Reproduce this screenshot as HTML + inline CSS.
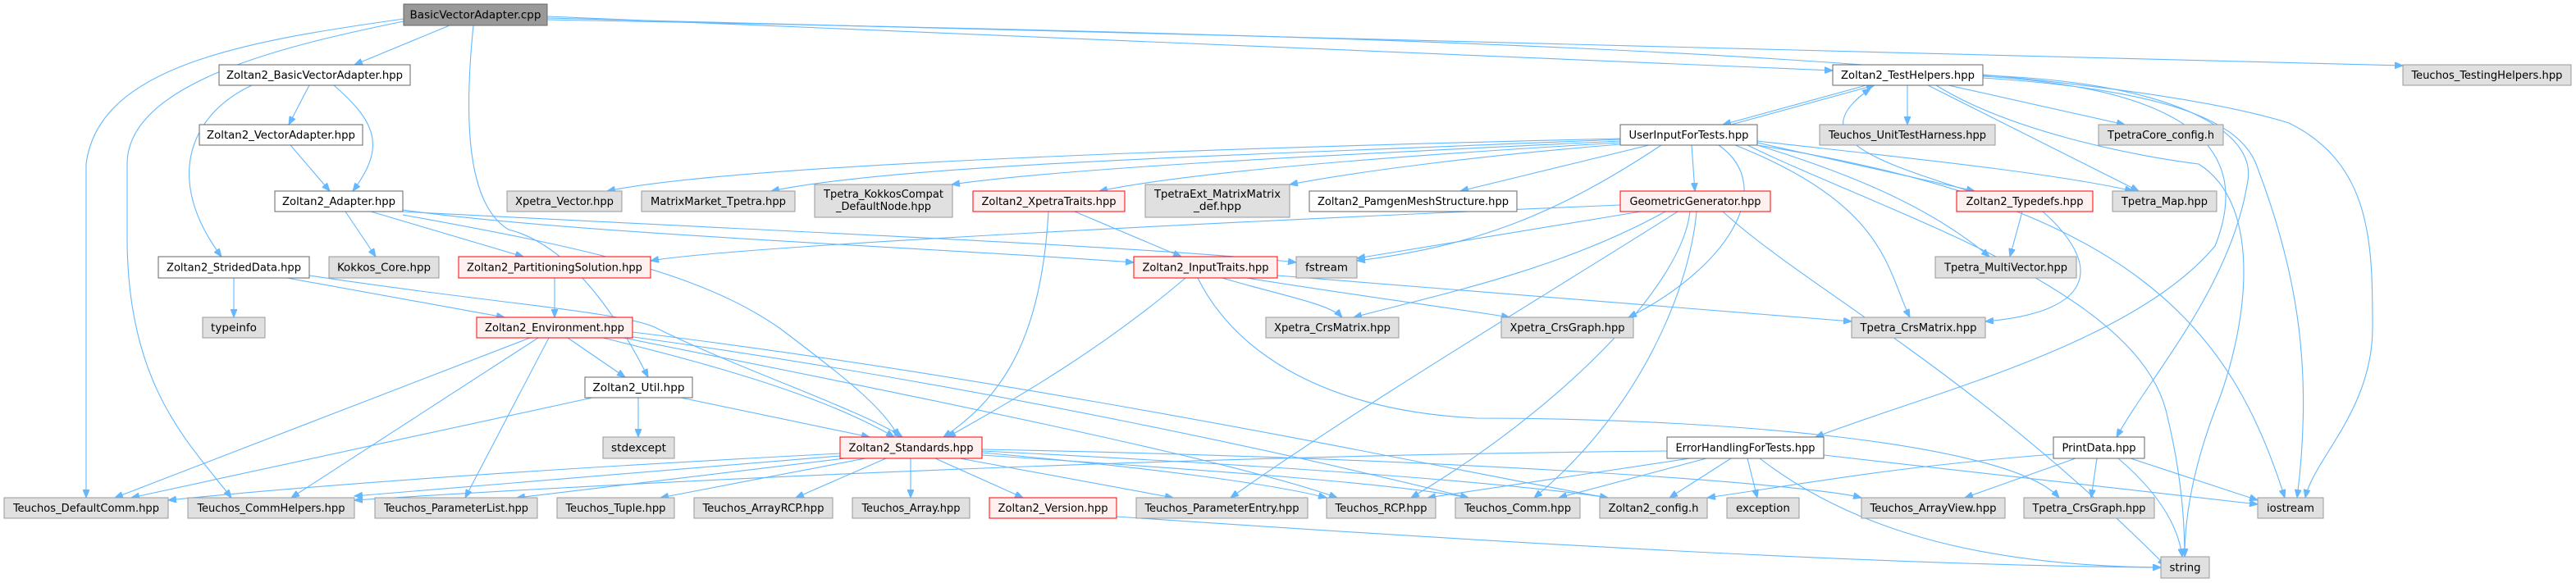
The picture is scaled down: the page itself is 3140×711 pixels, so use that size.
<!DOCTYPE html>
<html><head><meta charset="utf-8"><style>
html,body{margin:0;padding:0;background:#fff;}
svg{display:block;}
text{font-family:"DejaVu Sans Condensed","Liberation Sans",sans-serif;font-size:13px;fill:#000;}
.g{fill:#e0e0e0;stroke:#999;stroke-width:1;}
.w{fill:#fff;stroke:#666;stroke-width:1;}
.r{fill:#fff0f0;stroke:#f00;stroke-width:1;}
.k{fill:#999;stroke:#666;stroke-width:1;}
path.e{fill:none;stroke:#63b8ff;stroke-width:1.1;marker-end:url(#a);}
</style></head><body>
<svg width="3140" height="711" viewBox="0 0 3140 711" xmlns="http://www.w3.org/2000/svg">
<defs><marker id="a" markerUnits="userSpaceOnUse" markerWidth="11" markerHeight="8" refX="10" refY="4" orient="auto"><path d="M0,0 L10,4 L0,8 z" fill="#63b8ff" stroke="#63b8ff"/></marker></defs>
<g>
<path class="e" d="M548,31 L432,79"/>
<path class="e" d="M492,23 C300,50 120,80 105,200 L105,607"/>
<path class="e" d="M492,26 C350,55 155,100 155,200 L155,290 C155,470 230,540 282,607"/>
<path class="e" d="M577,31 C565,150 570,250 620,280 C700,300 760,400 790,460"/>
<path class="e" d="M667,20 L2234,86"/>
<path class="e" d="M667,22 L2929,80"/>
<path class="e" d="M667,24 C1500,40 2500,60 2790,150 C2892,200 2892,300 2892,400 C2892,500 2820,560 2810,607"/>
<path class="e" d="M377,104 L352,152"/>
<path class="e" d="M407,104 C460,150 470,180 430,233"/>
<path class="e" d="M307,104 C230,140 200,220 270,313"/>
<path class="e" d="M354,177 L402,233"/>
<path class="e" d="M421,258 L458,313"/>
<path class="e" d="M452,258 L638,313"/>
<path class="e" d="M491,256 C700,285 1100,300 1382,320"/>
<path class="e" d="M491,262 C700,300 850,330 950,400 C1030,460 1080,500 1095,533"/>
<path class="e" d="M491,258 C900,280 1400,300 1580,320"/>
<path class="e" d="M285,339 L285,387"/>
<path class="e" d="M350,339 L615,387"/>
<path class="e" d="M377,336 C600,370 760,380 800,400 C900,450 1050,500 1100,533"/>
<path class="e" d="M676,339 L676,387"/>
<path class="e" d="M692,412 L762,460"/>
<path class="e" d="M646,412 L140,607"/>
<path class="e" d="M656,412 L355,607"/>
<path class="e" d="M669,412 L567,607"/>
<path class="e" d="M735,412 C850,440 1000,480 1090,533"/>
<path class="e" d="M760,412 C1100,480 1500,560 1630,607"/>
<path class="e" d="M765,410 C1200,470 1600,560 1790,607"/>
<path class="e" d="M771,405 C1300,470 1800,580 1960,607"/>
<path class="e" d="M778,485 L778,533"/>
<path class="e" d="M830,485 L1060,533"/>
<path class="e" d="M722,485 L160,607"/>
<path class="e" d="M1024,553 C700,570 400,590 205,610"/>
<path class="e" d="M1024,556 C800,575 600,590 432,605"/>
<path class="e" d="M1030,559 L630,607"/>
<path class="e" d="M1055,559 L805,607"/>
<path class="e" d="M1080,559 L970,607"/>
<path class="e" d="M1110,559 L1110,607"/>
<path class="e" d="M1140,559 L1247,607"/>
<path class="e" d="M1170,559 L1430,607"/>
<path class="e" d="M1197,552 C1400,570 1550,590 1617,607"/>
<path class="e" d="M1197,555 C1500,575 1700,590 1790,607"/>
<path class="e" d="M1197,550 C1600,570 1850,590 1960,607"/>
<path class="e" d="M1197,548 C1800,560 2200,590 2269,607"/>
<path class="e" d="M1310,258 L1440,313"/>
<path class="e" d="M1278,258 C1270,400 1230,480 1150,533"/>
<path class="e" d="M1445,339 C1350,420 1250,480 1155,533"/>
<path class="e" d="M1490,339 C1560,360 1620,370 1636,387"/>
<path class="e" d="M1520,339 C1650,360 1800,380 1840,387"/>
<path class="e" d="M1557,336 L2257,392"/>
<path class="e" d="M1460,339 C1500,420 1600,500 1800,510 C2100,510 2450,540 2510,607"/>
<path class="e" d="M2275,104 L2100,152"/>
<path class="e" d="M2110,152 L2285,104"/>
<path class="e" d="M2325,104 L2325,152"/>
<path class="e" d="M2375,104 L2590,152"/>
<path class="e" d="M2350,104 L2607,233"/>
<path class="e" d="M2417,93 C2700,110 2740,200 2700,300 C2600,420 2350,480 2213,533"/>
<path class="e" d="M2417,92 C2650,100 2750,160 2740,220 C2720,350 2620,460 2580,533"/>
<path class="e" d="M2417,95 C2650,110 2730,150 2750,200 C2800,330 2820,450 2800,607"/>
<path class="e" d="M2360,104 C2450,160 2600,190 2680,200 C2760,250 2740,400 2700,500 C2670,580 2663,640 2663,679"/>
<path class="e" d="M2400,233 C2300,200 2190,170 2280,108"/>
<path class="e" d="M1975,169 C1500,180 900,200 740,233"/>
<path class="e" d="M1975,170 C1500,190 1100,200 940,233"/>
<path class="e" d="M1975,172 C1600,190 1300,205 1160,225"/>
<path class="e" d="M1975,174 C1700,190 1450,210 1340,233"/>
<path class="e" d="M1975,176 C1800,190 1650,210 1572,225"/>
<path class="e" d="M2010,177 L1780,233"/>
<path class="e" d="M2062,177 L2066,233"/>
<path class="e" d="M2025,177 C1900,260 1800,300 1654,318"/>
<path class="e" d="M2142,174 L2407,233"/>
<path class="e" d="M2142,172 C2300,190 2500,210 2600,233"/>
<path class="e" d="M2142,177 C2250,210 2350,250 2425,313"/>
<path class="e" d="M2115,177 C2300,250 2300,330 2328,387"/>
<path class="e" d="M2095,177 C2170,230 2100,330 1985,387"/>
<path class="e" d="M2130,177 C2300,260 2600,350 2640,500 C2660,580 2663,640 2663,679"/>
<path class="e" d="M2142,177 C2600,250 2720,400 2785,607"/>
<path class="e" d="M1975,250 C1500,270 900,300 793,318"/>
<path class="e" d="M2000,258 L1654,315"/>
<path class="e" d="M2030,258 C1900,330 1750,360 1650,387"/>
<path class="e" d="M2045,258 C1900,350 1650,500 1500,607"/>
<path class="e" d="M2060,258 C2050,350 1900,500 1720,607"/>
<path class="e" d="M2068,258 C2060,350 2000,500 1870,607"/>
<path class="e" d="M2100,258 C2200,350 2400,450 2640,690"/>
<path class="e" d="M2465,258 L2450,313"/>
<path class="e" d="M2490,258 C2560,320 2560,380 2420,392"/>
<path class="e" d="M2060,559 L1740,607"/>
<path class="e" d="M2080,559 L1900,607"/>
<path class="e" d="M2110,559 L2035,607"/>
<path class="e" d="M2130,559 L2142,607"/>
<path class="e" d="M2223,555 L2752,615"/>
<path class="e" d="M2145,559 C2250,640 2400,690 2634,692"/>
<path class="e" d="M2032,550 C1500,555 900,580 432,610"/>
<path class="e" d="M2530,559 L2395,607"/>
<path class="e" d="M2556,559 L2549,607"/>
<path class="e" d="M2597,559 L2752,610"/>
<path class="e" d="M2582,559 C2630,600 2655,640 2660,679"/>
<path class="e" d="M2503,554 C2300,570 2200,590 2081,607"/>
<path class="e" d="M1361,630 C1800,660 2300,690 2634,692"/>
</g>
<g>
<rect class="k" x="492" y="5" width="175" height="26"/><text x="579.5" y="22.5" text-anchor="middle" textLength="160" lengthAdjust="spacingAndGlyphs">BasicVectorAdapter.cpp</text>
<rect class="w" x="267" y="79" width="233" height="25"/><text x="383.5" y="96" text-anchor="middle" textLength="215" lengthAdjust="spacingAndGlyphs">Zoltan2_BasicVectorAdapter.hpp</text>
<rect class="w" x="243" y="152" width="199" height="25"/><text x="342.5" y="169" text-anchor="middle" textLength="181" lengthAdjust="spacingAndGlyphs">Zoltan2_VectorAdapter.hpp</text>
<rect class="w" x="335" y="233" width="156" height="25"/><text x="413" y="250" text-anchor="middle" textLength="138" lengthAdjust="spacingAndGlyphs">Zoltan2_Adapter.hpp</text>
<rect class="w" x="193" y="313" width="184" height="26"/><text x="285" y="330.5" text-anchor="middle" textLength="164" lengthAdjust="spacingAndGlyphs">Zoltan2_StridedData.hpp</text>
<rect class="g" x="401" y="313" width="134" height="26"/><text x="468" y="330.5" text-anchor="middle" textLength="114" lengthAdjust="spacingAndGlyphs">Kokkos_Core.hpp</text>
<rect class="r" x="559" y="313" width="234" height="26"/><text x="676" y="330.5" text-anchor="middle" textLength="214" lengthAdjust="spacingAndGlyphs">Zoltan2_PartitioningSolution.hpp</text>
<rect class="g" x="618" y="233" width="140" height="25"/><text x="688" y="250" text-anchor="middle" textLength="120" lengthAdjust="spacingAndGlyphs">Xpetra_Vector.hpp</text>
<rect class="g" x="247" y="387" width="76" height="25"/><text x="285" y="404" text-anchor="middle" textLength="56" lengthAdjust="spacingAndGlyphs">typeinfo</text>
<rect class="r" x="581" y="387" width="190" height="25"/><text x="676" y="404" text-anchor="middle" textLength="170" lengthAdjust="spacingAndGlyphs">Zoltan2_Environment.hpp</text>
<rect class="w" x="713" y="460" width="131" height="25"/><text x="778.5" y="477" text-anchor="middle" textLength="112" lengthAdjust="spacingAndGlyphs">Zoltan2_Util.hpp</text>
<rect class="g" x="735" y="533" width="87" height="26"/><text x="778.5" y="550.5" text-anchor="middle" textLength="67" lengthAdjust="spacingAndGlyphs">stdexcept</text>
<rect class="g" x="5" y="607" width="200" height="25"/><text x="105" y="624" text-anchor="middle" textLength="178" lengthAdjust="spacingAndGlyphs">Teuchos_DefaultComm.hpp</text>
<rect class="g" x="229" y="607" width="203" height="25"/><text x="330.5" y="624" text-anchor="middle" textLength="180" lengthAdjust="spacingAndGlyphs">Teuchos_CommHelpers.hpp</text>
<rect class="g" x="457" y="607" width="198" height="25"/><text x="556" y="624" text-anchor="middle" textLength="176" lengthAdjust="spacingAndGlyphs">Teuchos_ParameterList.hpp</text>
<rect class="g" x="679" y="607" width="143" height="25"/><text x="750.5" y="624" text-anchor="middle" textLength="122" lengthAdjust="spacingAndGlyphs">Teuchos_Tuple.hpp</text>
<rect class="g" x="846" y="607" width="169" height="25"/><text x="930.5" y="624" text-anchor="middle" textLength="148" lengthAdjust="spacingAndGlyphs">Teuchos_ArrayRCP.hpp</text>
<rect class="g" x="1039" y="607" width="143" height="25"/><text x="1110.5" y="624" text-anchor="middle" textLength="120" lengthAdjust="spacingAndGlyphs">Teuchos_Array.hpp</text>
<rect class="r" x="1206" y="607" width="155" height="25"/><text x="1283.5" y="624" text-anchor="middle" textLength="134" lengthAdjust="spacingAndGlyphs">Zoltan2_Version.hpp</text>
<rect class="g" x="1385" y="607" width="209" height="25"/><text x="1489.5" y="624" text-anchor="middle" textLength="188" lengthAdjust="spacingAndGlyphs">Teuchos_ParameterEntry.hpp</text>
<rect class="g" x="1617" y="607" width="133" height="25"/><text x="1683.5" y="624" text-anchor="middle" textLength="112" lengthAdjust="spacingAndGlyphs">Teuchos_RCP.hpp</text>
<rect class="g" x="1774" y="607" width="152" height="25"/><text x="1850" y="624" text-anchor="middle" textLength="130" lengthAdjust="spacingAndGlyphs">Teuchos_Comm.hpp</text>
<rect class="g" x="1950" y="607" width="131" height="25"/><text x="2015.5" y="624" text-anchor="middle" textLength="110" lengthAdjust="spacingAndGlyphs">Zoltan2_config.h</text>
<rect class="g" x="2105" y="607" width="88" height="25"/><text x="2149" y="624" text-anchor="middle" textLength="66" lengthAdjust="spacingAndGlyphs">exception</text>
<rect class="g" x="2269" y="607" width="175" height="25"/><text x="2356.5" y="624" text-anchor="middle" textLength="154" lengthAdjust="spacingAndGlyphs">Teuchos_ArrayView.hpp</text>
<rect class="g" x="2467" y="607" width="159" height="25"/><text x="2546.5" y="624" text-anchor="middle" textLength="138" lengthAdjust="spacingAndGlyphs">Tpetra_CrsGraph.hpp</text>
<rect class="g" x="2752" y="607" width="80" height="25"/><text x="2792" y="624" text-anchor="middle" textLength="58" lengthAdjust="spacingAndGlyphs">iostream</text>
<rect class="g" x="2634" y="679" width="59" height="26"/><text x="2663.5" y="696.5" text-anchor="middle" textLength="38" lengthAdjust="spacingAndGlyphs">string</text>
<rect class="g" x="782" y="233" width="187" height="25"/><text x="875.5" y="250" text-anchor="middle" textLength="165" lengthAdjust="spacingAndGlyphs">MatrixMarket_Tpetra.hpp</text>
<rect class="g" x="993" y="225" width="168" height="40"/><text x="1077" y="241" text-anchor="middle" textLength="146" lengthAdjust="spacingAndGlyphs">Tpetra_KokkosCompat</text><text x="1077" y="256" text-anchor="middle" textLength="116" lengthAdjust="spacingAndGlyphs">_DefaultNode.hpp</text>
<rect class="r" x="1186" y="233" width="185" height="25"/><text x="1278.5" y="250" text-anchor="middle" textLength="164" lengthAdjust="spacingAndGlyphs">Zoltan2_XpetraTraits.hpp</text>
<rect class="g" x="1396" y="225" width="176" height="40"/><text x="1484" y="241" text-anchor="middle" textLength="154" lengthAdjust="spacingAndGlyphs">TpetraExt_MatrixMatrix</text><text x="1484" y="256" text-anchor="middle" textLength="58" lengthAdjust="spacingAndGlyphs">_def.hpp</text>
<rect class="r" x="1382" y="313" width="175" height="26"/><text x="1469.5" y="330.5" text-anchor="middle" textLength="154" lengthAdjust="spacingAndGlyphs">Zoltan2_InputTraits.hpp</text>
<rect class="r" x="1024" y="533" width="173" height="26"/><text x="1110.5" y="550.5" text-anchor="middle" textLength="152" lengthAdjust="spacingAndGlyphs">Zoltan2_Standards.hpp</text>
<rect class="g" x="1543" y="387" width="162" height="25"/><text x="1624" y="404" text-anchor="middle" textLength="142" lengthAdjust="spacingAndGlyphs">Xpetra_CrsMatrix.hpp</text>
<rect class="w" x="2234" y="79" width="183" height="25"/><text x="2325.5" y="96" text-anchor="middle" textLength="163" lengthAdjust="spacingAndGlyphs">Zoltan2_TestHelpers.hpp</text>
<rect class="w" x="1975" y="152" width="167" height="25"/><text x="2058.5" y="169" text-anchor="middle" textLength="146" lengthAdjust="spacingAndGlyphs">UserInputForTests.hpp</text>
<rect class="g" x="2218" y="152" width="214" height="25"/><text x="2325" y="169" text-anchor="middle" textLength="192" lengthAdjust="spacingAndGlyphs">Teuchos_UnitTestHarness.hpp</text>
<rect class="w" x="1596" y="233" width="253" height="25"/><text x="1722.5" y="250" text-anchor="middle" textLength="233" lengthAdjust="spacingAndGlyphs">Zoltan2_PamgenMeshStructure.hpp</text>
<rect class="r" x="1975" y="233" width="183" height="25"/><text x="2066.5" y="250" text-anchor="middle" textLength="160" lengthAdjust="spacingAndGlyphs">GeometricGenerator.hpp</text>
<rect class="g" x="1580" y="313" width="74" height="26"/><text x="1617" y="330.5" text-anchor="middle" textLength="52" lengthAdjust="spacingAndGlyphs">fstream</text>
<rect class="g" x="2359" y="313" width="172" height="26"/><text x="2445" y="330.5" text-anchor="middle" textLength="150" lengthAdjust="spacingAndGlyphs">Tpetra_MultiVector.hpp</text>
<rect class="g" x="1830" y="387" width="161" height="25"/><text x="1910.5" y="404" text-anchor="middle" textLength="140" lengthAdjust="spacingAndGlyphs">Xpetra_CrsGraph.hpp</text>
<rect class="g" x="2257" y="387" width="163" height="25"/><text x="2338.5" y="404" text-anchor="middle" textLength="142" lengthAdjust="spacingAndGlyphs">Tpetra_CrsMatrix.hpp</text>
<rect class="w" x="2032" y="533" width="191" height="26"/><text x="2127.5" y="550.5" text-anchor="middle" textLength="170" lengthAdjust="spacingAndGlyphs">ErrorHandlingForTests.hpp</text>
<rect class="g" x="2929" y="79" width="205" height="25"/><text x="3031.5" y="96" text-anchor="middle" textLength="184" lengthAdjust="spacingAndGlyphs">Teuchos_TestingHelpers.hpp</text>
<rect class="g" x="2558" y="152" width="152" height="25"/><text x="2634" y="169" text-anchor="middle" textLength="130" lengthAdjust="spacingAndGlyphs">TpetraCore_config.h</text>
<rect class="r" x="2385" y="233" width="166" height="25"/><text x="2468" y="250" text-anchor="middle" textLength="143" lengthAdjust="spacingAndGlyphs">Zoltan2_Typedefs.hpp</text>
<rect class="g" x="2575" y="233" width="127" height="25"/><text x="2638.5" y="250" text-anchor="middle" textLength="105" lengthAdjust="spacingAndGlyphs">Tpetra_Map.hpp</text>
<rect class="w" x="2503" y="533" width="111" height="26"/><text x="2558.5" y="550.5" text-anchor="middle" textLength="90" lengthAdjust="spacingAndGlyphs">PrintData.hpp</text>
</g>
</svg>
</body></html>
